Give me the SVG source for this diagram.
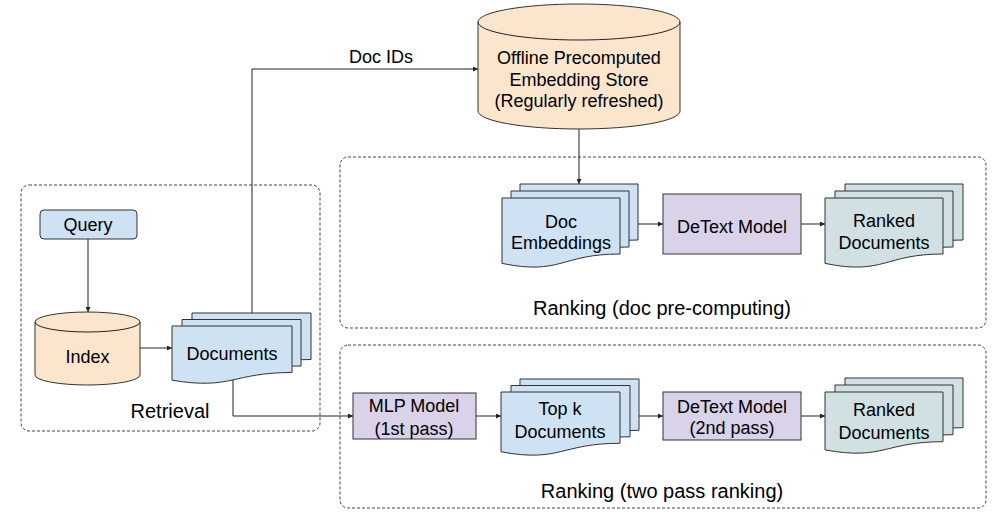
<svg xmlns="http://www.w3.org/2000/svg" width="1003" height="518" viewBox="0 0 1003 518">
<defs>
<style>
text{font-family:"Liberation Sans",Arial,sans-serif;font-size:18px;fill:#000;text-anchor:middle}
.lbl{font-size:20px}
.grp{fill:none;stroke:#444;stroke-width:1;stroke-dasharray:3 2}
.blue{fill:#cfe2f3;stroke:#333;stroke-width:1}
.peach{fill:#fce5cd;stroke:#333;stroke-width:1}
.lav{fill:#d9d2e9;stroke:#333;stroke-width:1}
.teal{fill:#d0e0e3;stroke:#333;stroke-width:1}
.edge{fill:none;stroke:#222;stroke-width:1}
</style>
<marker id="ah" viewBox="0 0 6 6" refX="6" refY="3" markerWidth="5" markerHeight="5" markerUnits="userSpaceOnUse" orient="auto">
<path d="M0,0 L6,3 L0,6 Z" fill="#222"/>
</marker>
</defs>
<rect width="1003" height="518" fill="#fff"/>

<g id="containers">
<rect class="grp" x="21" y="185" width="299" height="246" rx="8"/>
<rect class="grp" x="340" y="157" width="646" height="171" rx="8"/>
<rect class="grp" x="340" y="345" width="646" height="163" rx="8"/>
<text class="lbl" x="170" y="418">Retrieval</text>
<text class="lbl" x="662" y="315">Ranking (doc pre-computing)</text>
<text class="lbl" x="662" y="498">Ranking (two pass ranking)</text>
</g>

<g id="connectors">
<line class="edge" x1="88" y1="239" x2="88" y2="312" marker-end="url(#ah)"/>
<line class="edge" x1="140" y1="348" x2="172" y2="348" marker-end="url(#ah)"/>
<polyline class="edge" points="252,313 252,69 478,69" marker-end="url(#ah)"/>
<text x="381" y="63">Doc IDs</text>
<line class="edge" x1="579" y1="129" x2="579" y2="184" marker-end="url(#ah)"/>
<polyline class="edge" points="233,380 233,416 353,416" marker-end="url(#ah)"/>
<line class="edge" x1="620" y1="224" x2="663" y2="224" marker-end="url(#ah)"/>
<line class="edge" x1="801" y1="224" x2="825" y2="224" marker-end="url(#ah)"/>
<line class="edge" x1="476" y1="416" x2="501" y2="416" marker-end="url(#ah)"/>
<line class="edge" x1="620" y1="416" x2="663" y2="416" marker-end="url(#ah)"/>
<line class="edge" x1="801" y1="416" x2="825" y2="416" marker-end="url(#ah)"/>
</g>

<g id="query">
<rect class="blue" x="40" y="210" width="97" height="29" rx="4"/>
<text x="88" y="231">Query</text>
</g>

<g id="index">
<path class="peach" d="M35,322 A52.5,10 0 0 1 140,322 V375 A52.5,10 0 0 1 35,375 Z"/>
<path class="edge" d="M35,322 A52.5,10 0 0 0 140,322" stroke="#333"/>
<text x="87.5" y="363">Index</text>
</g>

<g id="documents">
<path class="blue" d="M192,313 h119 v46.5 C251.5,359.5 251.5,377.2 192,367.2 Z"/>
<path class="blue" d="M182,319.5 h119 v46.5 C241.5,366 241.5,383.7 182,373.7 Z"/>
<path class="blue" d="M172,326 h120 v46.5 C232,372.5 232,390.2 172,380.2 Z"/>
<text x="232" y="360">Documents</text>
</g>

<g id="store">
<path class="peach" d="M478,22 A101,18 0 0 1 680,22 V111 A101,18 0 0 1 478,111 Z"/>
<path class="edge" d="M478,22 A101,18 0 0 0 680,22" stroke="#333"/>
<text x="579" y="64">Offline Precomputed</text>
<text x="579" y="86">Embedding Store</text>
<text x="579" y="107">(Regularly refreshed)</text>
</g>

<g id="doc-embeddings">
<path class="blue" d="M520,184 h118 v56 C579,240 579,261.5 520,249.4 Z"/>
<path class="blue" d="M511,191 h118 v56 C570,247 570,268.5 511,256.4 Z"/>
<path class="blue" d="M502,198 h118 v56 C561,254 561,275.5 502,263.4 Z"/>
<text x="561" y="228">Doc</text>
<text x="561" y="249">Embeddings</text>
</g>

<g id="detext-1">
<rect class="lav" x="663" y="194" width="138" height="60"/>
<text x="732" y="233">DeText Model</text>
</g>

<g id="ranked-1">
<path class="teal" d="M845,184 h118 v56 C904,240 904,261.5 845,249.4 Z"/>
<path class="teal" d="M835,191 h118 v56 C894,247 894,268.5 835,256.4 Z"/>
<path class="teal" d="M825,198 h118 v56 C884,254 884,275.5 825,263.4 Z"/>
<text x="884" y="227">Ranked</text>
<text x="884" y="249">Documents</text>
</g>

<g id="mlp">
<rect class="lav" x="353" y="393" width="123" height="46"/>
<text x="414" y="412">MLP Model</text>
<text x="414" y="435">(1st pass)</text>
</g>

<g id="topk">
<path class="blue" d="M520,379 h119 v51.3 C579.5,430.3 579.5,449.8 520,438.8 Z"/>
<path class="blue" d="M511,385.5 h119 v51.3 C570.5,436.8 570.5,456.3 511,445.3 Z"/>
<path class="blue" d="M501,392 h119 v51.3 C560.5,443.3 560.5,462.8 501,451.8 Z"/>
<text x="560" y="415">Top k</text>
<text x="560" y="438">Documents</text>
</g>

<g id="detext-2">
<rect class="lav" x="663" y="392" width="138" height="48"/>
<text x="732" y="413">DeText Model</text>
<text x="732" y="434">(2nd pass)</text>
</g>

<g id="ranked-2">
<path class="teal" d="M845,378 h118 v49.7 C904,427.7 904,446.6 845,435.9 Z"/>
<path class="teal" d="M835,385 h118 v49.7 C894,434.7 894,453.6 835,442.9 Z"/>
<path class="teal" d="M825,392 h118 v49.7 C884,441.7 884,460.6 825,449.9 Z"/>
<text x="884" y="416">Ranked</text>
<text x="884" y="439">Documents</text>
</g>
</svg>
